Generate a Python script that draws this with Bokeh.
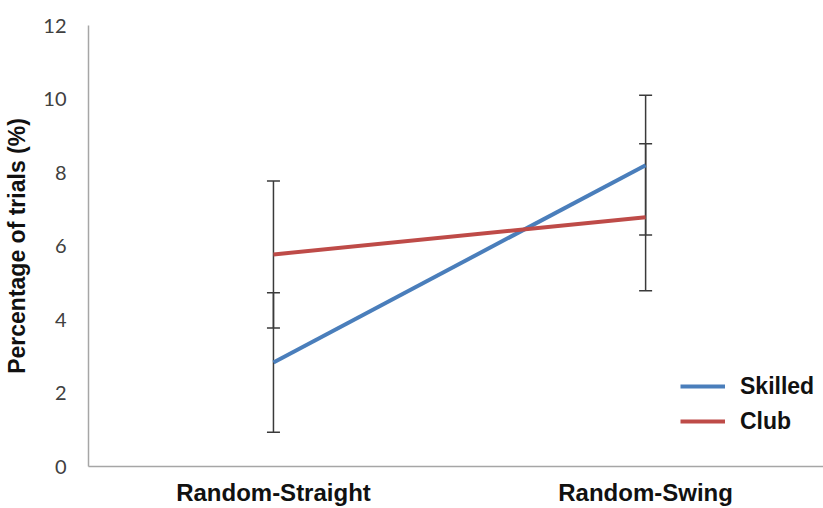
from bokeh.plotting import figure
from bokeh.models import ColumnDataSource, Whisker, TeeHead, Legend, LegendItem, FixedTicker, Range1d
from bokeh.embed import file_html
from bokeh.resources import INLINE

categories = ["Random-Straight", "Random-Swing"]
skilled = [2.83, 8.2]
skilled_err = [1.9, 1.9]
club = [5.77, 6.78]
club_err = [2.0, 2.0]
y_ticks = [0, 2, 4, 6, 8, 10, 12]

xs = list(range(len(categories)))

p = figure(width=823, height=508, output_backend="svg", toolbar_location=None,
           x_range=Range1d(-0.497, 1.478), y_range=Range1d(0, 12),
           min_border_left=88, min_border_right=0, min_border_top=25, min_border_bottom=41)
p.outline_line_color = None
p.xgrid.visible = False
p.ygrid.visible = False
p.background_fill_color = "white"
p.border_fill_color = "white"

# error bars
for vals, errs in [(skilled, skilled_err), (club, club_err)]:
    src = ColumnDataSource(dict(x=xs, lower=[v - e for v, e in zip(vals, errs)],
                                upper=[v + e for v, e in zip(vals, errs)]))
    w = Whisker(source=src, base="x", lower="lower", upper="upper",
                line_color="#3a3a3a", line_width=1.5,
                lower_head=TeeHead(size=13, line_color="#3a3a3a", line_width=1.5),
                upper_head=TeeHead(size=13, line_color="#3a3a3a", line_width=1.5))
    p.add_layout(w)

r1 = p.line(xs, skilled, line_color="#4a7ebb", line_width=4)
r2 = p.line(xs, club, line_color="#be4b48", line_width=4)

legend = Legend(items=[LegendItem(label="Skilled", renderers=[r1]),
                       LegendItem(label="Club", renderers=[r2])],
                location=(592, 30))
legend.border_line_color = None
legend.background_fill_alpha = 0
legend.label_text_font = "Liberation Sans"
legend.label_text_font_style = "bold"
legend.label_text_font_size = "23px"
legend.label_text_color = "#111111"
legend.glyph_width = 45
legend.glyph_height = 30
legend.label_height = 30
legend.spacing = 5
legend.label_standoff = 15
p.add_layout(legend)

# axes
p.xaxis.ticker = FixedTicker(ticks=xs)
p.xaxis.major_label_overrides = {i: c for i, c in enumerate(categories)}
p.xaxis.major_label_text_font = "Liberation Sans"
p.xaxis.major_label_text_font_style = "bold"
p.xaxis.major_label_text_font_size = "24px"
p.xaxis.major_label_text_color = "#111111"
p.xaxis.major_label_standoff = 12
p.xaxis.major_tick_out = 0
p.xaxis.major_tick_in = 0
p.xaxis.major_tick_line_color = None
p.xaxis.minor_tick_line_color = None
p.xaxis.axis_line_color = "#a6a6a6"
p.xaxis.axis_line_width = 1.5

p.yaxis.ticker = FixedTicker(ticks=y_ticks)
p.yaxis.major_label_text_font = "Lato"
p.yaxis.major_label_text_font_size = "20px"
p.yaxis.major_label_text_color = "#404040"
p.yaxis.major_label_standoff = 22
p.yaxis.major_tick_out = 0
p.yaxis.major_tick_in = 0
p.yaxis.major_tick_line_color = None
p.yaxis.minor_tick_line_color = None
p.yaxis.axis_line_color = "#a6a6a6"
p.yaxis.axis_line_width = 1.5
p.yaxis.axis_label = "Percentage of trials (%)"
p.yaxis.axis_label_text_font = "Liberation Sans"
p.yaxis.axis_label_text_font_style = "bold"
p.yaxis.axis_label_text_font_size = "23px"
p.yaxis.axis_label_text_color = "#111111"
p.yaxis.axis_label_standoff = 10

open("out.html", "w").write(file_html(p, INLINE))
